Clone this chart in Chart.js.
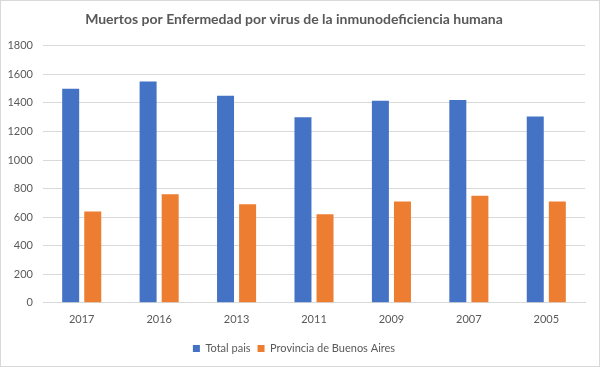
<!DOCTYPE html>
<html>
<head>
<meta charset="utf-8">
<script src="https://cdn.jsdelivr.net/npm/chart.js@4"></script>
<style>
  html, body { margin: 0; padding: 0; background: #fff; }
  #wrap { position: relative; width: 598px; height: 365px; border: 1px solid #d9d9d9; }
</style>
</head>
<body>
<div id="wrap"><canvas id="chart"></canvas></div>
<script>
const years = ["2017", "2016", "2013", "2011", "2009", "2007", "2005"];
const totalPais = [1500, 1550, 1450, 1300, 1415, 1420, 1305];
const buenosAires = [640, 760, 690, 620, 710, 750, 710];

const gray = "#595959";

new Chart(document.getElementById("chart"), {
  type: "bar",
  data: {
    labels: years,
    datasets: [
      {
        label: "Total pais",
        data: totalPais,
        backgroundColor: "#4472c4",
        categoryPercentage: 0.57,
        barPercentage: 0.77
      },
      {
        label: "Provincia de Buenos Aires",
        data: buenosAires,
        backgroundColor: "#ed7d31",
        categoryPercentage: 0.57,
        barPercentage: 0.77
      }
    ]
  },
  options: {
    responsive: true,
    maintainAspectRatio: false,
    animation: false,
    layout: { padding: { left: 2, right: 14, top: 4, bottom: 2 } },
    scales: {
      x: {
        grid: { display: false, drawTicks: false },
        border: { color: "#d9d9d9" },
        ticks: { color: gray, font: { family: "Lato", size: 11 }, padding: 10 }
      },
      y: {
        min: 0,
        max: 1800,
        afterFit: s => { s.width = 40; },
        ticks: {
          stepSize: 200,
          color: gray,
          font: { family: "Lato", size: 11 },
          padding: 10,
          callback: v => String(v)
        },
        grid: { color: "#d9d9d9", drawTicks: false },
        border: { display: false }
      }
    },
    plugins: {
      title: {
        display: true,
        text: "Muertos por Enfermedad por virus de la inmunodeficiencia humana",
        color: gray,
        font: { family: "Lato", size: 14, weight: "bold" },
        padding: { top: 6, bottom: 18 }
      },
      legend: {
        position: "bottom",
        labels: {
          color: gray,
          font: { family: "Lato", size: 11 },
          boxWidth: 7,
          boxHeight: 7,
          padding: 7
        }
      },
      tooltip: { enabled: false }
    }
  }
});
</script>
</body>
</html>
